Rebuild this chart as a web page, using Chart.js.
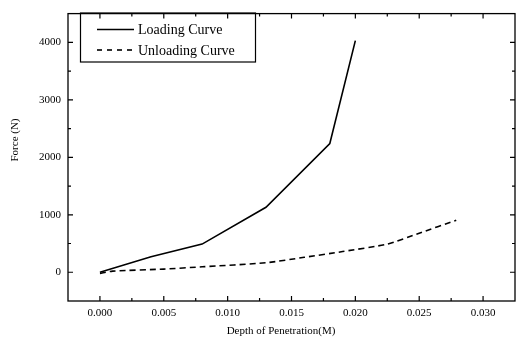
<!DOCTYPE html>
<html>
<head>
<meta charset="utf-8">
<script src="https://cdn.jsdelivr.net/npm/chart.js@4/dist/chart.umd.min.js"></script>
<style>
  html, body { margin: 0; padding: 0; background: #fff; }
  #wrap { width: 524px; height: 341px; }
</style>
</head>
<body>
<div id="wrap"><canvas id="chartPenetracion"></canvas></div>
<script>
// loading curve: depth (m) vs force (N)
const loadDepth = [0, 0.004, 0.008, 0.013, 0.018, 0.020];
const loadForce = [0, 270, 490, 1130, 2240, 4030];

// unloading curve
const unloadDepth = [0, 0.001, 0.005, 0.008, 0.013, 0.016, 0.019, 0.0225, 0.025, 0.0279];
const unloadForce = [-20, 20, 55, 95, 165, 260, 360, 490, 680, 905];

const seriesLabels = ["Loading Curve", "Unloading Curve"];
const xTitle = "Depth of Penetration(M)";
const yTitle = "Force (N)";

const FONT = "'Liberation Serif', 'DejaVu Serif', serif";

function toPoints(xs, ys) {
    return xs.map((x, i) => ({ x: x, y: ys[i] }));
}

function esMultiplo(v, paso) {
    const r = v / paso;
    return Math.abs(r - Math.round(r)) < 1e-6;
}

// inward ticks on all four sides, box frame, axis titles and the framed legend
const marcoPlugin = {
    id: "marco",
    afterDraw(chart) {
        const ctx = chart.ctx;
        const area = chart.chartArea;
        const xs = chart.scales.x;
        const ys = chart.scales.y;

        ctx.save();
        ctx.strokeStyle = "#000";
        ctx.lineWidth = 1.3;
        ctx.strokeRect(area.left, area.top, area.right - area.left, area.bottom - area.top);

        ctx.lineWidth = 1.2;
        ctx.beginPath();
        xs.ticks.forEach(t => {
            const v = t.value;
            if (v <= xs.min + 1e-9 || v >= xs.max - 1e-9) return;
            const px = xs.getPixelForValue(v);
            const len = esMultiplo(v, 0.005) ? 5 : 3;
            ctx.moveTo(px, area.bottom);
            ctx.lineTo(px, area.bottom - len);
            ctx.moveTo(px, area.top);
            ctx.lineTo(px, area.top + len);
        });
        ys.ticks.forEach(t => {
            const v = t.value;
            if (v <= ys.min || v >= ys.max) return;
            const py = ys.getPixelForValue(v);
            const len = esMultiplo(v, 1000) ? 5 : 3;
            ctx.moveTo(area.left, py);
            ctx.lineTo(area.left + len, py);
            ctx.moveTo(area.right, py);
            ctx.lineTo(area.right - len, py);
        });
        ctx.stroke();

        // axis titles
        ctx.fillStyle = "#000";
        ctx.font = "11px " + FONT;
        ctx.textAlign = "center";
        ctx.textBaseline = "middle";
        ctx.fillText(xTitle, 281, 331);
        ctx.save();
        ctx.translate(15.5, 140);
        ctx.rotate(-Math.PI / 2);
        ctx.fillText(yTitle, 0, 0);
        ctx.restore();

        // legend box
        ctx.lineWidth = 1.2;
        ctx.strokeRect(80.5, 13, 175, 49);
        ctx.font = "14px " + FONT;
        ctx.textAlign = "left";
        chart.data.datasets.forEach((ds, i) => {
            const y = 29.5 + i * 20.5;
            ctx.beginPath();
            ctx.lineWidth = ds.borderWidth;
            ctx.setLineDash(i === 0 ? [] : [5, 5]);
            ctx.moveTo(97, y);
            ctx.lineTo(134, y);
            ctx.stroke();
            ctx.setLineDash([]);
            ctx.fillText(ds.label, 138, y + 1);
        });
        ctx.restore();
    }
};

document.addEventListener("DOMContentLoaded", () => {
    const ctx = document.getElementById("chartPenetracion");

    new Chart(ctx, {
        type: "line",
        data: {
            datasets: [{
                label: seriesLabels[0],
                data: toPoints(loadDepth, loadForce),
                borderColor: "#000",
                borderWidth: 1.6,
                pointRadius: 0,
                tension: 0,
                fill: false
            }, {
                label: seriesLabels[1],
                data: toPoints(unloadDepth, unloadForce),
                borderColor: "#000",
                borderWidth: 1.6,
                borderDash: [6, 4],
                pointRadius: 0,
                tension: 0.2,
                fill: false
            }]
        },
        options: {
            responsive: true,
            maintainAspectRatio: false,
            animation: false,
            layout: { padding: { left: 0, top: 5, right: 9, bottom: 0 } },
            plugins: {
                legend: { display: false },
                tooltip: { enabled: false }
            },
            scales: {
                x: {
                    type: "linear",
                    min: -0.0025,
                    max: 0.0325,
                    grid: { display: false, drawTicks: false },
                    border: { display: false },
                    afterFit: scale => { scale.height = 40; },
                    ticks: {
                        stepSize: 0.0025,
                        autoSkip: false,
                        maxRotation: 0,
                        padding: 6,
                        color: "#000",
                        font: { family: FONT, size: 11 },
                        callback: v => (v >= 0 && esMultiplo(v, 0.005)) ? v.toFixed(3) : ""
                    }
                },
                y: {
                    min: -500,
                    max: 4500,
                    grid: { display: false, drawTicks: false },
                    border: { display: false },
                    afterFit: scale => { scale.width = 68; },
                    ticks: {
                        stepSize: 500,
                        autoSkip: false,
                        padding: 7,
                        color: "#000",
                        font: { family: FONT, size: 11 },
                        callback: v => (v >= 0 && esMultiplo(v, 1000)) ? String(v) : ""
                    }
                }
            }
        },
        plugins: [marcoPlugin]
    });
});
</script>
</body>
</html>
